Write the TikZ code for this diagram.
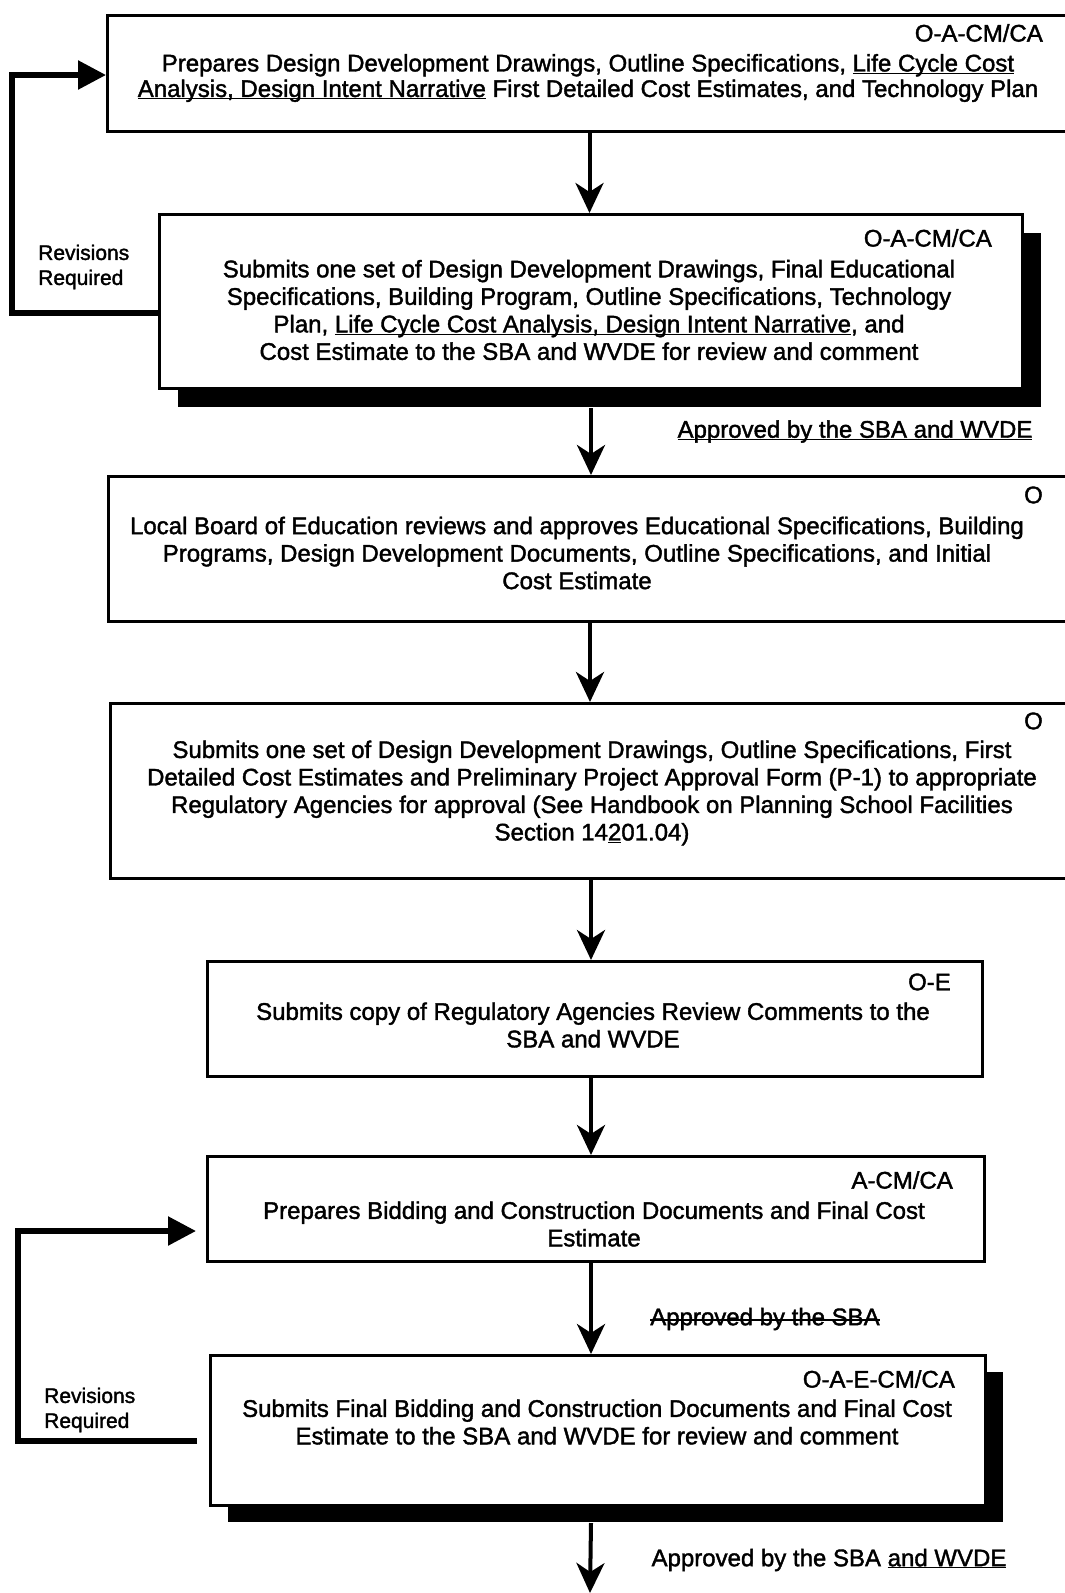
\documentclass[tikz,border=0pt]{standalone}
\usepackage{fontspec}
\setmainfont{Liberation Sans}[UprightFeatures={FakeBold=1.6}]
\usetikzlibrary{arrows.meta,shadows}
\newcommand\ulx[1]{\underline{\raisebox{0pt}[\height][0pt]{#1}}}
\begin{document}
\begin{tikzpicture}[x=1pt,y=-1pt,
  box/.style={draw,line width=3pt,fill=white,inner sep=0pt,anchor=north west},
  shbox/.style={box,drop shadow={opacity=1,fill=black,shadow xshift=18pt,shadow yshift=-18pt}},
  txt/.style={align=center,font=\fontsize{24}{27.5}\selectfont,inner sep=0pt},
  code/.style={anchor=east,font=\fontsize{24}{27.5}\selectfont,inner sep=0pt},
  side/.style={align=left,anchor=west,font=\fontsize{21}{25}\selectfont,inner sep=0pt},
  conn/.style={line width=4pt,-{Stealth[length=30pt,width=28pt,inset=9pt]}},
  back/.style={line width=5.5pt,-{Triangle[length=28pt,width=28pt]}},
]
\useasboundingbox (0,0) rectangle (1065,1593);
\clip (0,0) rectangle (1065,1593);

% boxes
\node[box,minimum width=964pt,minimum height=116pt] (b1) at (106,14) {};
\node[shbox,minimum width=863pt,minimum height=174pt] (b2) at (158,213) {};
\node[box,minimum width=963pt,minimum height=145pt] (b3) at (107,475) {};
\node[box,minimum width=961pt,minimum height=175pt] (b4) at (109,702) {};
\node[box,minimum width=775pt,minimum height=115pt] (b5) at (206,960) {};
\node[box,minimum width=777pt,minimum height=105pt] (b6) at (206,1155) {};
\node[box,drop shadow={opacity=1,fill=black,shadow xshift=17pt,shadow yshift=-16pt},minimum width=775pt,minimum height=150pt] (b7) at (209,1354) {};

% box 1
\node[code] (c1) at (1043,33) {O-A-CM/CA};
\node[txt,font=\fontsize{24}{25.5}\selectfont] (t1) at (588,78) {Prepares Design Development Drawings, Outline Specifications, \ulx{Life Cycle Cost}\\
\ulx{Analysis, Design Intent Narrative} First Detailed Cost Estimates, and Technology Plan};

% box 2
\node[code] (c2) at (992,238) {O-A-CM/CA};
\node[txt] (t2) at (589,310) {Submits one set of Design Development Drawings, Final Educational\\
Specifications, Building Program, Outline Specifications, Technology\\
Plan, \ulx{Life Cycle Cost Analysis, Design Intent Narrative}, and\\
Cost Estimate to the SBA and WVDE for review and comment};

% box 3
\node[code] (c3) at (1043,495) {O};
\node[txt] (t3) at (577,553) {Local Board of Education reviews and approves Educational Specifications, Building\\
Programs, Design Development Documents, Outline Specifications, and Initial\\
Cost Estimate};

% box 4
\node[code] (c4) at (1043,721) {O};
\node[txt] (t4) at (592,793) {Submits one set of Design Development Drawings, Outline Specifications, First\\
Detailed Cost Estimates and Preliminary Project Approval Form (P-1) to appropriate\\
Regulatory Agencies for approval (See Handbook on Planning School Facilities\\
Section 14\ulx{2}01.04)};

% box 5
\node[code] (c5) at (951,982) {O-E};
\node[txt] (t5) at (593,1025) {Submits copy of Regulatory Agencies Review Comments to the\\
SBA and WVDE};

% box 6
\node[code] (c6) at (953,1180) {A-CM/CA};
\node[txt] (t6) at (594,1224) {Prepares Bidding and Construction Documents and Final Cost\\
Estimate};

% box 7
\node[code] (c7) at (955,1379) {O-A-E-CM/CA};
\node[txt] (t7) at (597,1422) {Submits Final Bidding and Construction Documents and Final Cost\\
Estimate to the SBA and WVDE for review and comment};

% labels
\node[txt] (l1) at (855,430) {\ulx{Approved by the SBA and WVDE}};
\node[txt] (l2) at (765,1319) {Approved by the SBA};
\draw[line width=1.6pt] ([yshift=-1pt]l2.west) -- ([yshift=-1pt]l2.east);
\node[txt] (l3) at (829,1560) {Approved by the SBA \ulx{and WVDE}};
\node[side] (r1) at (38,267) {Revisions\\Required};
\node[side] (r2) at (44,1410) {Revisions\\Required};

% connectors
\draw[conn] (b1.south) -- (b1.south |- b2.north);
\draw[conn] ([yshift=-18pt]b2.south) -- (b2.south |- b3.north);
\draw[conn] (b3.south) -- (b3.south |- b4.north);
\draw[conn] (b4.south) -- (b4.south |- b5.north);
\draw[conn] (b4.south |- b5.south) -- (b4.south |- b6.north);
\draw[conn] (b4.south |- b6.south) -- (b4.south |- b7.north);
\coordinate (end) at (590,1593);
\draw[conn] ([yshift=-16pt]b4.south |- b7.south) -- (end);

% revision loops
\draw[back] (b2.west |- 0,313) -- (12,313) -- (12,75) -- (b1.west |- 0,75);
\draw[back] ([xshift=-12pt]b7.west |- 0,1441) -- (18,1441) -- (18,1231) -- ([xshift=-10pt]b6.west |- 0,1231);
\end{tikzpicture}
\end{document}
